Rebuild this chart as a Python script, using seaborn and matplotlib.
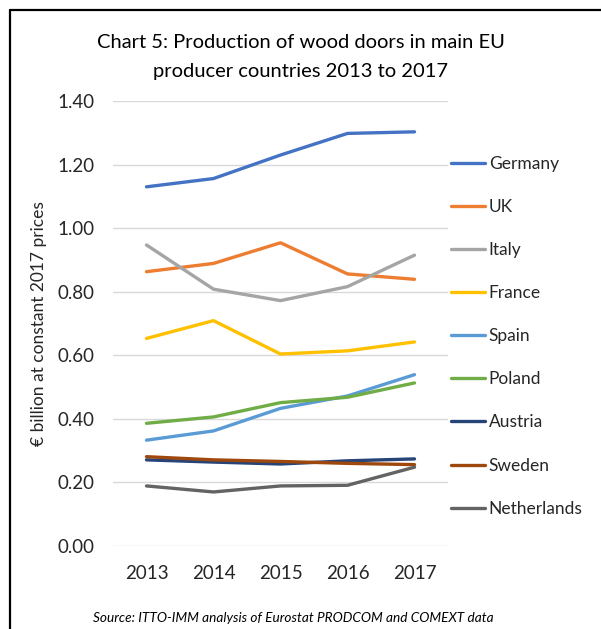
import matplotlib
matplotlib.use("Agg")
import matplotlib.pyplot as plt
from matplotlib.lines import Line2D
import seaborn as sns
import pandas as pd

years = ["2013", "2014", "2015", "2016", "2017"]
countries = ["Germany", "UK", "Italy", "France", "Spain",
             "Poland", "Austria", "Sweden", "Netherlands"]

germany = [1.130, 1.156, 1.230, 1.298, 1.303]
uk = [0.863, 0.889, 0.954, 0.856, 0.839]
italy = [0.947, 0.808, 0.772, 0.816, 0.915]
france = [0.653, 0.709, 0.604, 0.614, 0.642]
spain = [0.333, 0.362, 0.433, 0.472, 0.539]
poland = [0.386, 0.406, 0.451, 0.468, 0.513]
austria = [0.271, 0.264, 0.258, 0.268, 0.274]
sweden = [0.281, 0.271, 0.266, 0.260, 0.256]
netherlands = [0.189, 0.170, 0.189, 0.191, 0.248]

colors = ["#4472C4", "#ED7D31", "#A5A5A5", "#FFC000", "#5B9BD5",
          "#70AD47", "#264478", "#9E480E", "#636363"]

series = [germany, uk, italy, france, spain, poland, austria, sweden, netherlands]
rows = []
for name, vals in zip(countries, series):
    for i, v in enumerate(vals):
        rows.append({"pos": i, "country": name, "value": v})
df = pd.DataFrame(rows)

sns.set_theme(style="white")
plt.rcParams["font.family"] = ["Lato", "DejaVu Sans"]

fig = plt.figure(figsize=(6.01, 6.29), dpi=100)
ax = fig.add_axes([113 / 601, 1 - 546 / 629, 335 / 601, 445 / 629])

sns.lineplot(data=df, x="pos", y="value", hue="country", hue_order=countries,
             palette=colors, linewidth=2.4, ax=ax, legend=False)

ax.set_xlim(-0.5, 4.5)
ax.set_ylim(0, 1.4)
ax.set_yticks([0, 0.2, 0.4, 0.6, 0.8, 1.0, 1.2, 1.4])
ax.set_yticklabels([f"{t:.2f}" for t in ax.get_yticks()])
ax.set_xticks(range(len(years)))
ax.set_xticklabels(years)
ax.tick_params(axis="both", length=0, labelsize=13.5, colors="#262626")
ax.tick_params(axis="y", pad=13)
ax.tick_params(axis="x", pad=14)
ax.grid(axis="y", color="#D9D9D9", linewidth=1.0)
ax.set_axisbelow(True)
for s in ax.spines.values():
    s.set_visible(False)
ax.set_xlabel("")
ax.set_ylabel("€ billion at constant 2017 prices", fontsize=12.5, color="#262626",
              labelpad=8)

handles = [Line2D([0], [0], color=c, linewidth=2.4) for c in colors]
fig.legend(handles, countries, loc="upper left",
           bbox_to_anchor=(451 / 601, 1 - 156 / 629), frameon=False,
           fontsize=12.5, handlelength=1.95, handletextpad=0.22,
           labelspacing=1.56, borderaxespad=0, borderpad=0)

fig.text(0.5, 1 - 42 / 629, "Chart 5: Production of wood doors in main EU",
         ha="center", va="center", fontsize=14.5, color="#000000")
fig.text(0.5, 1 - 72 / 629, "producer countries 2013 to 2017",
         ha="center", va="center", fontsize=14.5, color="#000000")
fig.text(293 / 601, 1 - 618 / 629,
         "Source: ITTO-IMM analysis of Eurostat PRODCOM and COMEXT data",
         ha="center", va="center", fontsize=9.8, style="italic", color="#000000")

# outer frame: top and left edges
fig.add_artist(Line2D([9.5 / 601, 9.5 / 601], [0, 1 - 9.5 / 629],
                      transform=fig.transFigure, color="black", linewidth=1.6))
fig.add_artist(Line2D([9.5 / 601, 1], [1 - 9.5 / 629, 1 - 9.5 / 629],
                      transform=fig.transFigure, color="black", linewidth=1.6))

fig.savefig("out.png", dpi=100, facecolor="white")
